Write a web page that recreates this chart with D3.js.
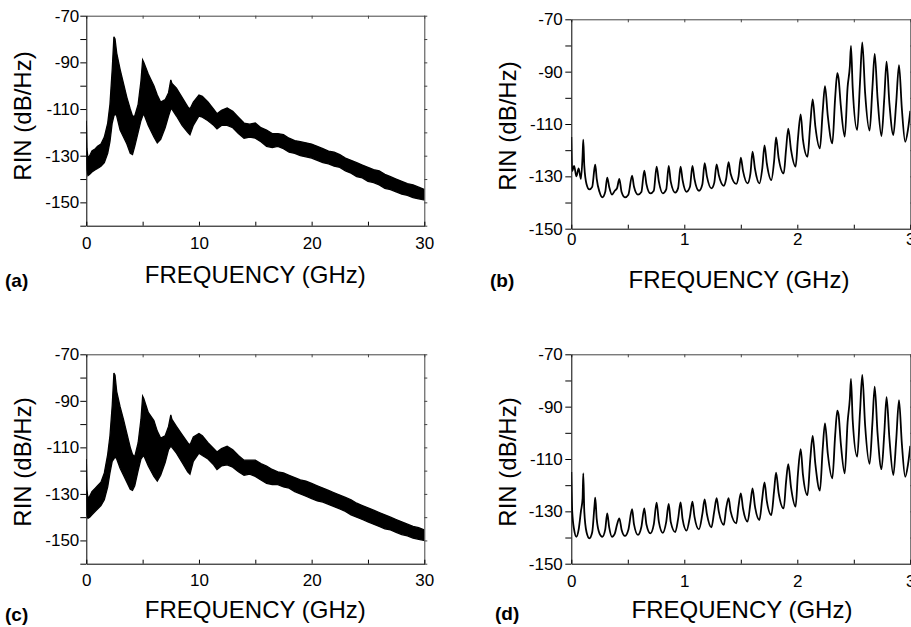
<html>
<script src='https://d3js.org/d3.v7.min.js'></script>
<style>
  body { margin: 0; background: #fff; }
  text { font-family: "Liberation Sans", Arial, Helvetica, sans-serif; fill: #000; }
</style>
<body>
<svg class="chart" width=911 height=627></svg>
<script>

// ---- data ----

// panels (a) and (c): the noisy RIN trace, kept as upper / lower edges of the black band
var freqWide = [0, 0.05, 0.15, 0.3, 0.5, 0.8, 1.0, 1.3, 1.6, 1.9, 2.1, 2.3, 2.45, 2.55, 2.7, 3.0, 3.3, 3.6, 3.9, 4.1,
  4.3, 4.6, 4.85, 5.0, 5.1, 5.5, 6.0, 6.3, 6.6, 7.0, 7.3, 7.5, 7.6, 8.0, 8.5, 9.0, 9.2, 9.5, 10.0, 10.3,
  10.8, 11.3, 11.6, 12.0, 12.5, 13.0, 13.5, 14.0, 14.5, 15.0, 15.5, 16.0, 16.5, 17.0, 17.5, 18.0, 18.5, 19.0, 19.5, 20,
  20.5, 21, 21.5, 22, 22.5, 23, 23.5, 24, 24.5, 25, 25.5, 26, 26.5, 27, 27.5, 28, 28.5, 29, 29.5, 30];

var upperA = [-115, -127, -131, -130, -128, -127, -126, -125, -122, -116, -108, -93, -79, -80, -86, -93, -99, -105, -110, -113,
  -113, -108, -98, -89, -90, -95, -100, -104, -107, -106, -103, -97.5, -99, -101, -105, -109, -110, -107, -104, -104.5,
  -107, -110, -112, -110.5, -109.5, -111, -113.5, -116, -116.5, -116, -118, -119, -120.5, -120.5, -121, -122.5, -123.5, -124, -124.5, -125,
  -126, -127, -128, -128.5, -129.5, -131, -132, -133, -134, -135, -136, -136.5, -138, -139, -140, -141, -142, -142.5, -143.5, -144.5];
var lowerA = [-128, -136, -138.5, -138, -137, -136, -135.5, -134.5, -133, -129, -124, -116, -113, -112, -113, -119, -122, -125, -129, -129.5,
  -126, -120, -115, -113, -112, -117, -122, -124.5, -123, -118, -113, -110, -110, -113, -117, -120, -121, -117, -113, -113.5,
  -115, -117, -118.5, -117, -117, -118, -120.5, -122.5, -122, -122.5, -124, -126, -126.5, -126, -127, -128.5, -129, -130, -130.5, -131,
  -132, -133, -133.5, -134.5, -135, -136.5, -137.5, -139, -139.5, -141, -141.5, -142.5, -144, -144.5, -145.5, -146.5, -147, -148, -148.5, -149];

var upperC = [-115, -128, -132, -131, -129, -127.5, -126.5, -125, -121, -113, -105, -92, -78, -79, -86, -92.5, -98, -104, -110, -113,
  -114, -108, -98, -88, -89, -95, -98.5, -103, -106, -105, -101, -96, -98, -101, -104.5, -108, -109, -105.5, -104, -105,
  -108, -110.5, -112, -110.5, -109.5, -111, -113.5, -115.5, -115.5, -115.5, -117, -118, -119.5, -120.5, -121, -122, -123, -124, -124.5, -125.5,
  -126.5, -127.5, -128.5, -129.5, -130.5, -131.5, -132.5, -134, -135, -136, -137, -138, -139, -140, -141, -142, -143, -144, -144.5, -145.5];
var lowerC = [-122, -139, -140.5, -140, -139, -137.5, -136.5, -135, -132.5, -127, -121, -116, -115, -114, -115, -119, -122, -125, -128, -128.5,
  -126.5, -120, -115, -114, -113.5, -118, -122.5, -124.5, -122, -116.5, -111, -109.5, -110, -112.5, -116.5, -120.5, -121.5, -116, -112.5, -113.5,
  -115, -117.5, -119.5, -118, -117.5, -118.5, -120.5, -122, -121.5, -122.5, -124, -125.5, -126, -126, -127, -127.5, -129, -130, -131, -132,
  -133, -133.5, -134.5, -135.5, -136.5, -137.5, -139, -140, -141, -142, -143, -144, -145, -145.5, -146.5, -147.5, -148, -149, -149.5, -150];

// panels (b) and (d): 0-3 GHz zoom, one trace each
var freqB = [0.000, 0.008, 0.025, 0.045, 0.065, 0.085, 0.100, 0.106, 0.115, 0.135, 0.160, 0.185, 0.205, 0.212, 0.225, 0.250, 0.275, 0.300, 0.318, 0.335,
  0.360, 0.385, 0.405, 0.425, 0.445, 0.475, 0.505, 0.538, 0.555, 0.590, 0.620, 0.646, 0.665, 0.700, 0.730, 0.755, 0.775, 0.810, 0.840, 0.862,
  0.880, 0.920, 0.945, 0.967, 0.985, 1.020, 1.050, 1.072, 1.090, 1.130, 1.160, 1.180, 1.200, 1.240, 1.265, 1.286, 1.305, 1.350, 1.370, 1.392,
  1.410, 1.460, 1.480, 1.500, 1.520, 1.560, 1.585, 1.604, 1.625, 1.665, 1.690, 1.710, 1.730, 1.770, 1.795, 1.812, 1.835, 1.880, 1.900, 1.920,
  1.945, 1.985, 2.005, 2.030, 2.050, 2.090, 2.115, 2.136, 2.160, 2.200, 2.225, 2.245, 2.270, 2.310, 2.335, 2.354, 2.365, 2.385, 2.420, 2.445,
  2.465, 2.475, 2.490, 2.530, 2.555, 2.575, 2.600, 2.640, 2.665, 2.685, 2.710, 2.745, 2.770, 2.790, 2.815, 2.850, 2.875, 2.900, 2.925, 2.955,
  2.980, 3.000];
var rinB = [-115, -128, -126, -130, -127, -131, -122, -116, -126, -133, -135, -134, -127, -125.5, -131, -136, -138, -136, -130.5, -134,
  -137, -135.5, -134.5, -131, -136, -138, -137, -129.7, -134, -137, -136, -127.8, -133, -136.5, -135.5, -126.3, -132, -136.5, -135, -126,
  -132, -136.2, -134.5, -126.3, -131.5, -135.9, -134, -126, -131, -135.5, -133, -125, -130, -134.6, -132.5, -125.4, -129.5, -133.6, -131, -124.6,
  -129, -132.9, -130, -122.9, -128, -132.7, -129, -120.6, -127, -132.7, -127, -118.2, -125, -131.4, -124, -115.1, -123, -128.9, -120, -111.8,
  -120, -126.3, -116, -106.3, -116, -122.5, -110, -100.6, -111, -119.3, -105, -95.5, -107, -117.4, -100, -90.6, -92.5, -103, -114.8, -96,
  -88, -80.2, -96, -112.3, -94, -78.8, -98, -112.5, -96, -83.2, -100, -114.6, -100, -86.2, -102, -114.2, -102, -87.5, -104, -116.8,
  -112, -105];
var rinD = [-115, -130, -137, -139.7, -137, -130, -125, -115.5, -130, -138, -140.3, -138, -128, -124.8, -133, -138.5, -139.7, -137, -130.8, -136,
  -139.7, -138.5, -135, -132.7, -137, -139.4, -137, -129.2, -135, -139, -136, -128.9, -135, -138.4, -135, -126.7, -134, -138.2, -134, -127.2,
  -134, -137.9, -133, -126.6, -133, -137.4, -132, -126.3, -132, -136.9, -131, -125.4, -131, -136.1, -130, -125, -130, -135.2, -129, -125,
  -130, -134.6, -128, -123.1, -129, -133.9, -127, -121.2, -128, -133.3, -125, -118.9, -126, -131.4, -122, -115.2, -123, -128.9, -119, -112,
  -121, -128.2, -116, -106.2, -116, -123.8, -110, -101.2, -112, -122.1, -106, -96.4, -108, -117.4, -101, -91.5, -93, -104, -115.5, -96,
  -87, -79.4, -95, -109.1, -92, -77.9, -97, -111.9, -96, -82.4, -100, -113.9, -100, -86.4, -102, -116.1, -103, -87.5, -104, -116.8,
  -112, -105];

// tick values
var ticksWideX = [0, 5, 10, 15, 20, 25, 30];
var ticksNarrowX = [0, 0.5, 1, 1.5, 2, 2.5, 3];
var ticksWideY = [-160, -150, -140, -130, -120, -110, -100, -90, -80, -70];
var ticksNarrowY = [-150, -140, -130, -120, -110, -100, -90, -80, -70];

// ---- layout of the four panels ----
var panels = [
  {tag: "(a)", left: 86.3, right: 424.3, top: 15.7, bottom: 225.7, xMax: 30, yMin: -160, xt: ticksWideX, yt: ticksWideY,
   xPad: 11, yPad: 1, titleX: 255.3, titleY: 283.3, tagX: 5, tagY: 287, ytX: 22, ytY: 116, band: [upperA, lowerA]},
  {tag: "(b)", left: 571.3, right: 910.3, top: 19.3, bottom: 228.7, xMax: 3, yMin: -150, xt: ticksNarrowX, yt: ticksNarrowY,
   xPad: 4, yPad: 2.5, titleX: 739, titleY: 288.3, tagX: 490, tagY: 287, ytX: 507, ytY: 126, line: rinB},
  {tag: "(c)", left: 86.3, right: 424.3, top: 354.3, bottom: 563.7, xMax: 30, yMin: -160, xt: ticksWideX, yt: ticksWideY,
   xPad: 10, yPad: 1, titleX: 255.3, titleY: 617.7, tagX: 5, tagY: 621, ytX: 22, ytY: 462, band: [upperC, lowerC]},
  {tag: "(d)", left: 571.3, right: 910.3, top: 354.3, bottom: 563.7, xMax: 3, yMin: -150, xt: ticksNarrowX, yt: ticksNarrowY,
   xPad: 11, yPad: 2.5, titleX: 742, titleY: 618, tagX: 495, tagY: 620, ytX: 507, ytY: 462, line: rinD}
];

var svg = d3.select(".chart");

panels.forEach(function(p) {
  var w = p.right - p.left, h = p.bottom - p.top;
  var x = d3.scaleLinear().domain([0, p.xMax]).range([0, w]);
  var y = d3.scaleLinear().domain([p.yMin, -70]).range([h, 0]);
  var g = svg.append("g").attr("transform", "translate(" + p.left + "," + p.top + ")");

  var clipId = "clip" + p.tag.replace(/[()]/g, "");
  g.append("clipPath").attr("id", clipId)
    .append("rect").attr("width", w).attr("height", h);

  if (p.band) {
    var pts = freqWide.map(function(f, i) { return {f: f, hi: p.band[0][i], lo: p.band[1][i]}; });
    g.append("path")
      .datum(pts)
      .attr("clip-path", "url(#" + clipId + ")")
      .attr("fill", "#000")
      .attr("stroke", "#000")
      .attr("stroke-width", 1.3)
      .attr("d", d3.area()
        .x(function(d) { return x(d.f); })
        .y0(function(d) { return y(d.lo); })
        .y1(function(d) { return y(d.hi); }));
  } else {
    var pts2 = freqB.map(function(f, i) { return {f: f, v: p.line[i]}; });
    g.append("path")
      .datum(pts2)
      .attr("clip-path", "url(#" + clipId + ")")
      .attr("fill", "none")
      .attr("stroke", "#000")
      .attr("stroke-width", 1.8)
      .attr("stroke-linejoin", "round")
      .attr("d", d3.line()
        .curve(d3.curveMonotoneX)
        .x(function(d) { return x(d.f); })
        .y(function(d) { return y(d.v); }));
  }

  // frame: top and right sides with small ticks, no labels
  g.append("g")
    .call(d3.axisTop(x).tickValues(p.xt).tickSizeInner(-3).tickSizeOuter(0).tickFormat(""))
    .call(function(s) { s.selectAll("line,path").attr("stroke", "#444"); });
  g.append("g")
    .attr("transform", "translate(" + w + ",0)")
    .call(d3.axisRight(y).tickValues(p.yt).tickSizeInner(3).tickSizeOuter(0).tickFormat(""))
    .call(function(s) { s.selectAll("line,path").attr("stroke", "#444"); });

  // left axis, labels every 20 dB
  g.append("g")
    .call(d3.axisLeft(y).tickValues(p.yt).tickSizeInner(6).tickSizeOuter(0).tickPadding(p.yPad)
      .tickFormat(function(d) { return (d + 70) % 20 === 0 ? d : ""; }))
    .call(function(s) {
      s.selectAll("text").style("font-size", "17px").attr("fill", "#000");
      s.selectAll("line,path").attr("stroke", "#000");
    });

  // bottom axis, inward ticks
  g.append("g")
    .attr("transform", "translate(0," + h + ")")
    .call(d3.axisBottom(x).tickValues(p.xt).tickSizeInner(-4).tickSizeOuter(0).tickPadding(p.xPad)
      .tickFormat(function(d) { return (p.xMax === 30 ? d % 10 === 0 : d % 1 === 0) ? d : ""; }))
    .call(function(s) {
      s.selectAll("text").style("font-size", "17px").attr("fill", "#000");
      s.selectAll("line,path").attr("stroke", "#000");
    });

  // titles
  svg.append("text")
    .attr("x", p.titleX).attr("y", p.titleY)
    .attr("text-anchor", "middle")
    .style("font-size", "24px")
    .text("FREQUENCY (GHz)");
  svg.append("text")
    .attr("transform", "translate(" + p.ytX + "," + p.ytY + ") rotate(-90)")
    .attr("text-anchor", "middle")
    .attr("dy", "0.36em")
    .style("font-size", "24px")
    .text("RIN (dB/Hz)");
  svg.append("text")
    .attr("x", p.tagX).attr("y", p.tagY)
    .style("font-size", "19px")
    .style("font-weight", "bold")
    .text(p.tag);
});
</script>
</body>
</html>
